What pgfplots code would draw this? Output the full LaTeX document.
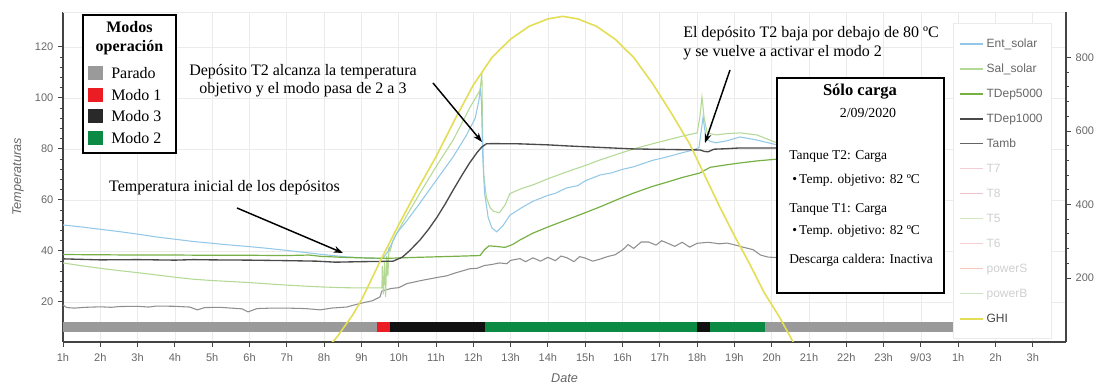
\documentclass[border=0pt]{standalone}
\usepackage{fontspec}
\setmainfont{Liberation Serif}
\setsansfont{Liberation Sans}
\usepackage{pgfplots}
\pgfplotsset{compat=1.18}
\usetikzlibrary{arrows.meta}
\definecolor{entc}{HTML}{94C8E8}
\definecolor{salc}{HTML}{B3D995}
\definecolor{dep5}{HTML}{77B145}
\definecolor{dep1}{HTML}{4A4A4A}
\definecolor{tambc}{HTML}{8F8F8F}
\definecolor{ghic}{HTML}{E3DE55}
\definecolor{parado}{HTML}{9A9A9A}
\definecolor{modo1}{HTML}{EC1C24}
\definecolor{modo3}{HTML}{111111}
\definecolor{modo2}{HTML}{0B8A43}
\definecolor{axisgray}{HTML}{444444}
\definecolor{labelgray}{HTML}{666666}
\definecolor{gridgray}{HTML}{EBEBEB}
\definecolor{fadegray}{HTML}{D0D0D0}
\definecolor{colTseven}{HTML}{F4CCD3}
\definecolor{colTeight}{HTML}{F0C4CC}
\definecolor{colTfive}{HTML}{D2E7C2}
\definecolor{colTsix}{HTML}{F6CDD0}
\definecolor{colPowS}{HTML}{F5C6BC}
\definecolor{colPowB}{HTML}{CDE3C1}
\pgfplotsset{
  commonax/.style={
    at={(47.25pt,32.25pt)}, anchor=south west, scale only axis,
    width=752.25pt, height=247.5pt, xmin=1, xmax=27.89,
    axis line style={color=axisgray, line width=0.8pt, -},
    tick style={color=axisgray, line width=0.7pt},
    tick align=outside, major tick length=3.75pt, minor tick length=2.2pt,
    ticklabel style={font=\sffamily\fontsize{8.25}{9}\selectfont, text=labelgray},
    /pgf/number format/assume math mode=true,
  }
}
\begin{document}
\begin{tikzpicture}
\useasboundingbox (0,0) rectangle (828pt,288.75pt);
\begin{axis}[commonax,
  ymin=4.3, ymax=133.7,
  axis x line*=bottom, axis y line*=left,
  xtick={1,...,27},
  xticklabels={1h,2h,3h,4h,5h,6h,7h,8h,9h,10h,11h,12h,13h,14h,15h,16h,17h,18h,19h,20h,21h,22h,23h,9/03,1h,2h,3h},
  ytick={20,40,60,80,100,120}, minor y tick num=4,
  grid=major, major grid style={color=gridgray, line width=0.5pt},
  ylabel={\textit{Temperaturas}}, xlabel={\textit{Date}},
  label style={font=\sffamily\fontsize{9.5}{11}\selectfont, text=labelgray},
  ylabel style={at={(axis description cs:-0.0449,0.5)}, anchor=center},
  xlabel style={at={(axis description cs:0.5,-0.109)}, anchor=center},
  xticklabel style={yshift=-1.5pt},
]
\draw[gridgray, line width=0.6pt] (rel axis cs:0,1) -- (rel axis cs:1,1);
% Tamb
\addplot[tambc, line width=0.8pt] coordinates {
(1,18.8)(1.1,17.8)(1.3,17.6)(1.6,17.9)(2,18.1)(2.3,17.9)(2.5,18.2)(3,18.3)(3.3,18.0)(3.5,18.4)(4,18.3)(4.4,18.0)(4.6,16.9)(4.8,17.8)(5.2,17.9)(5.6,17.5)(5.8,17.3)(5.96,16.1)(6.2,17.4)(6.6,17.6)(7,17.6)(7.5,17.4)(7.9,16.9)(8.2,17.6)(8.6,18.0)(8.96,19.4)(9.3,20.5)(9.5,22)(9.55,24.3)(9.8,25.3)(10.0,25.6)(10.22,27.2)(10.6,28.4)(11.03,29.6)(11.3,30.3)(11.5,31.3)(11.9,33.0)(12.1,33.2)(12.3,34.3)(12.5,34.7)(12.7,35.3)(12.9,35.0)(13.0,36.3)(13.25,37.0)(13.4,35.8)(13.6,37.3)(13.8,36.0)(14.0,37.5)(14.2,36.2)(14.35,38.0)(14.5,37.4)(14.7,35.8)(14.85,37.8)(15.0,37.2)(15.2,36.0)(15.4,36.8)(15.6,37.8)(15.8,38.5)(16.0,40.4)(16.15,42.5)(16.3,41.0)(16.5,43.5)(16.7,43.5)(16.9,42.3)(17.05,44.0)(17.2,43.1)(17.4,41.8)(17.6,43.4)(17.8,41.5)(18.0,43.0)(18.3,43.4)(18.6,42.8)(18.8,43.1)(19.0,42.4)(19.2,41.6)(19.5,40.5)(19.7,38.4)(19.9,37.6)(20.14,37.4)};
% Sal_solar
\addplot[salc, line width=0.8pt] coordinates {
(1,35.3)(1.5,34.2)(2,33.2)(2.5,32.3)(3,31.5)(3.5,30.6)(4,29.7)(4.5,28.9)(5,28.4)(5.5,28.0)(6,27.6)(6.5,27.1)(7,26.6)(7.5,26.2)(7.9,25.9)(8.5,25.6)(9.0,25.5)(9.55,25.5)(9.56,34)(9.59,23)(9.62,36)(9.65,22)(9.68,38)(9.71,30)(9.74,41)(9.77,40)(9.85,44.3)(10.2,53.5)(10.57,62.7)(11.0,73)(11.46,83.5)(11.9,96)(12.18,103)(12.23,109.8)(12.25,85)(12.28,70)(12.35,61)(12.45,57)(12.55,55.5)(12.7,55)(12.85,58)(12.98,62.5)(13.3,64.5)(13.6,65.9)(14.0,68.3)(14.5,71)(15.0,73.5)(15.4,75.7)(16.0,78.6)(16.3,80)(16.8,82)(17.2,83.5)(17.6,85)(18.0,86.3)(18.07,92)(18.13,100.4)(18.19,92)(18.27,86.3)(18.5,85.5)(18.8,86)(19.15,86.3)(19.6,85.5)(20.14,82.4)};
% Ent_solar
\addplot[entc, line width=0.8pt] coordinates {
(1,50.2)(1.5,49.4)(2,48.5)(2.5,47.6)(3,46.6)(3.5,45.5)(4,44.6)(4.5,43.7)(5,43.0)(5.5,42.3)(6,41.7)(6.5,41.0)(7,40.2)(7.5,39.4)(7.9,38.7)(8.3,38.1)(8.6,37.7)(9.0,37.3)(9.5,37.0)(9.6,37.6)(9.7,39.5)(9.77,41.6)(9.95,47)(10.2,51.5)(10.57,58.8)(11.0,67.6)(11.46,76.9)(11.8,85)(12.05,92)(12.15,99)(12.19,104)(12.22,98)(12.25,78)(12.3,63)(12.4,53)(12.5,49)(12.63,47.5)(12.8,50)(12.98,54)(13.3,57)(13.6,59.5)(14.0,61.8)(14.2,62.6)(14.5,64.7)(14.8,65.6)(15.0,67.5)(15.4,69.8)(15.7,70.6)(16.0,72)(16.3,73)(16.8,75.5)(17.2,76.9)(17.6,78.5)(17.9,79.6)(18.05,80.5)(18.1,86)(18.16,92.5)(18.2,88)(18.25,84)(18.35,83)(18.5,82.4)(18.8,83.2)(19.15,84.7)(19.6,83.5)(20.14,81.6)};
% TDep5000
\addplot[dep5, line width=0.9pt] coordinates {
(1,38.6)(2,38.5)(3,38.4)(4,38.4)(5,38.3)(6,38.3)(7,38.2)(7.6,38.4)(7.9,37.9)(8.5,37.5)(9.0,37.3)(9.7,37.1)(10.5,37.5)(11.5,37.9)(12.18,38.2)(12.3,40.5)(12.42,42)(12.6,41.8)(12.85,41.4)(13.05,42.5)(13.25,44.3)(13.6,47)(14.0,49.4)(14.5,52.2)(15.0,55)(15.4,57.3)(16.0,61)(16.3,62.7)(16.8,65.3)(17.2,67)(17.6,68.8)(18.08,70.6)(18.2,71.6)(18.35,72.8)(18.8,73.8)(19.15,74.5)(19.6,75.3)(20.14,76)};
% TDep1000
\addplot[dep1, line width=1pt] coordinates {
(1,36.9)(2,36.5)(3,36.6)(4,36.4)(4.5,36.6)(5,36.5)(6,36.4)(7,36.2)(7.8,36.0)(8.3,35.6)(9.0,35.8)(9.5,35.9)(9.85,36)(10.1,37.6)(10.3,40.2)(10.57,44.3)(10.8,48.5)(11.03,53.3)(11.25,58.5)(11.46,63.9)(11.7,69.8)(11.9,74.5)(12.1,78.6)(12.23,80.8)(12.35,82)(12.5,82.1)(13.25,82)(14.0,81.6)(14.5,81.2)(15.4,80.6)(16.3,80)(17.2,79.8)(18.08,79.6)(18.2,79)(18.3,78.9)(18.45,79.9)(18.8,80.1)(19.15,80.4)(20.14,80.4)};
% mode bar
\addplot[fill=parado, draw=none] coordinates {(1,8.2)(9.42,8.2)(9.42,12.2)(1,12.2)} -- cycle;
\addplot[fill=modo1, draw=none] coordinates {(9.42,8.2)(9.77,8.2)(9.77,12.2)(9.42,12.2)} -- cycle;
\addplot[fill=modo3, draw=none] coordinates {(9.77,8.2)(12.31,8.2)(12.31,12.2)(9.77,12.2)} -- cycle;
\addplot[fill=modo2, draw=none] coordinates {(12.31,8.2)(18.0,8.2)(18.0,12.2)(12.31,12.2)} -- cycle;
\addplot[fill=modo3, draw=none] coordinates {(18.0,8.2)(18.35,8.2)(18.35,12.2)(18.0,12.2)} -- cycle;
\addplot[fill=modo2, draw=none] coordinates {(18.35,8.2)(19.82,8.2)(19.82,12.2)(18.35,12.2)} -- cycle;
\addplot[fill=parado, draw=none] coordinates {(19.82,8.2)(25.53,8.2)(25.53,12.2)(19.82,12.2)} -- cycle;
\end{axis}
\begin{axis}[commonax,
  ymin=25.9, ymax=923.8,
  axis x line=none, axis y line*=right,
  ytick={200,400,600,800}, minor y tick num=4,
  legend cell align=left,
  legend style={at={(0.8873,0.9652)}, anchor=north west, draw=gridgray, fill=white,
    font=\sffamily\fontsize{9}{10}\selectfont, text=labelgray,
    inner xsep=4.75pt, inner ysep=8.5pt, row sep=5.75pt,
    nodes={inner sep=2pt, text height=7pt, text depth=2pt}},
]
\addlegendimage{color=entc, line width=1.2pt}\addlegendentry{Ent\_solar}
\addlegendimage{color=salc, line width=1.2pt}\addlegendentry{Sal\_solar}
\addlegendimage{color=dep5, line width=1.2pt}\addlegendentry{TDep5000}
\addlegendimage{color=dep1, line width=1.2pt}\addlegendentry{TDep1000}
\addlegendimage{color=dep1!85, line width=1.1pt}\addlegendentry{Tamb}
\addlegendimage{color=colTseven, line width=1.1pt}\addlegendentry{\textcolor{fadegray}{T7}}
\addlegendimage{color=colTeight, line width=1.1pt}\addlegendentry{\textcolor{fadegray}{T8}}
\addlegendimage{color=colTfive, line width=1.1pt}\addlegendentry{\textcolor{fadegray}{T5}}
\addlegendimage{color=colTsix, line width=1.1pt}\addlegendentry{\textcolor{fadegray}{T6}}
\addlegendimage{color=colPowS, line width=1.1pt}\addlegendentry{\textcolor{fadegray}{powerS}}
\addlegendimage{color=colPowB, line width=1.1pt}\addlegendentry{\textcolor{fadegray}{powerB}}
\addplot[ghic, line width=1.2pt] coordinates {
(8.0,0)(8.35,40)(8.77,100)(9.0,140)(9.5,245)(10.0,345)(10.5,440)(11.0,530)(11.5,630)(12.0,725)(12.5,800)(13.0,850)(13.5,885)(14.0,905)(14.4,912)(14.8,905)(15.3,885)(15.8,850)(16.3,800)(16.8,730)(17.3,650)(17.8,565)(18.2,480)(18.6,395)(19.0,315)(19.4,240)(19.8,160)(20.2,95)(20.5,40)(20.7,0)};
\addlegendentry{\textcolor{axisgray}{GHI}}
\end{axis}
\begin{scope}[x=0.75pt, y=-0.75pt, yshift=288.75pt]
% left legend
\draw[line width=1.1pt, fill=white] (83,15) rectangle (176,153);
\node[font=\bfseries\fontsize{12}{14.25}\selectfont, align=center] at (129.5,38.5) {Modos\\operación};
\fill[parado] (88,66) rectangle (103,80);
\fill[modo1] (88,88) rectangle (103,102);
\fill[modo3!90!white] (88,109) rectangle (103,123);
\fill[modo2] (88,131) rectangle (103,145);
\begin{scope}[every node/.style={anchor=west, inner sep=0pt, font=\fontsize{12}{14}\selectfont}]
\node at (111,73) {Parado};
\node at (111,95) {Modo 1};
\node at (111,116) {Modo 3};
\node at (111,138) {Modo 2};
\end{scope}
% info box
\draw[line width=1.1pt, fill=white] (777,78) rectangle (944,293);
\node[font=\bfseries\fontsize{12.4}{14}\selectfont] at (860,92) {Sólo carga};
\node[font=\fontsize{10.4}{12}\selectfont] at (868,113) {2/09/2020};
\begin{scope}[every node/.style={anchor=west, inner sep=0pt, font=\fontsize{10.1}{12}\selectfont}]
\node at (789,157) {Tanque T2: Carga};
\node at (792,180) {•\,Temp. objetivo: 82 ºC};
\node at (789,209) {Tanque T1: Carga};
\node at (792,231) {•\,Temp. objetivo: 82 ºC};
\node at (789,260) {Descarga caldera: Inactiva};
\end{scope}
% annotations
\node[align=center, font=\fontsize{12}{13.5}\selectfont] at (303,81) {Depósito T2 alcanza la temperatura\\objetivo y el modo pasa de 2 a 3};
\node[font=\fontsize{12}{13.5}\selectfont] at (224.5,188) {Temperatura inicial de los depósitos};
\node[align=left, anchor=west, inner sep=0pt, font=\fontsize{12}{14.25}\selectfont] at (683,43) {El depósito T2 baja por debajo de 80 ºC\\y se vuelve a activar el modo 2};
\draw[-{Stealth[length=7pt,width=5pt]}, line width=1.1pt] (433,83) -- (482,142);
\draw[-{Stealth[length=7pt,width=5pt]}, line width=1.1pt] (237,208) -- (343,253);
\draw[-{Stealth[length=7pt,width=5pt]}, line width=1.1pt] (730,70) -- (705,143);
\end{scope}
\end{tikzpicture}
\end{document}
